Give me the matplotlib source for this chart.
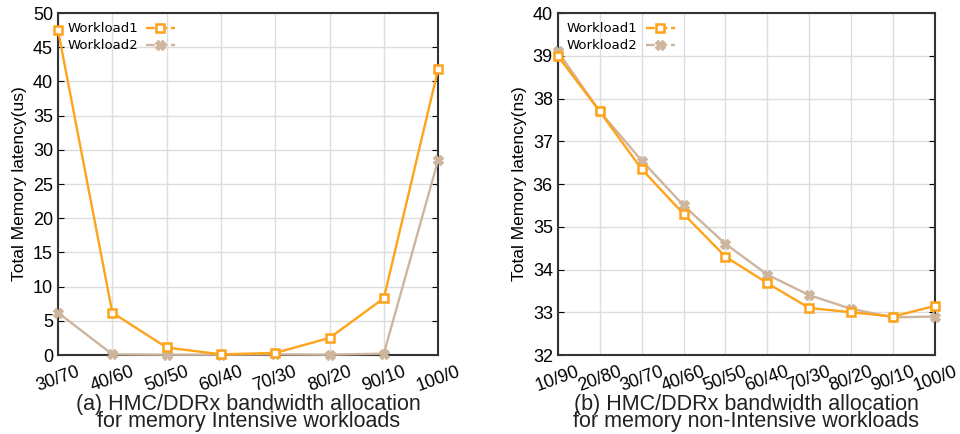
import matplotlib
matplotlib.use("Agg")
from matplotlib import pyplot as plt

# (a) memory intensive workloads
cats_a = ["30/70", "40/60", "50/50", "60/40", "70/30", "80/20", "90/10", "100/0"]
w1_a = [47.5, 6.2, 1.1, 0.1, 0.3, 2.5, 8.3, 41.8]
w2_a = [6.2, 0.1, 0.05, 0.05, 0.1, 0.05, 0.2, 28.5]

# (b) memory non-intensive workloads
cats_b = ["10/90", "20/80", "30/70", "40/60", "50/50", "60/40", "70/30", "80/20", "90/10", "100/0"]
w1_b = [39.0, 37.7, 36.35, 35.3, 34.3, 33.68, 33.1, 33.0, 32.9, 33.15]
w2_b = [39.1, 37.7, 36.55, 35.5, 34.6, 33.88, 33.4, 33.08, 32.88, 32.9]

ORANGE = "#FFA31A"
TAN = "#CDB59E"

plt.rcParams["font.family"] = ["Liberation Sans", "DejaVu Sans"]

fig = plt.figure(figsize=(9.6, 4.34), dpi=100)
ax1 = fig.add_axes([0.0604, 0.182, 0.396, 0.788])
ax2 = fig.add_axes([0.581, 0.182, 0.393, 0.788])


def draw(ax, cats, w1, w2, ylim, yticks, ylabel, caption):
    x = list(range(len(cats)))
    ax.plot(x, w1, color=ORANGE, lw=1.7, marker="s", ms=6, mfc="white", mec=ORANGE,
            mew=1.8, label="Workload1", clip_on=False, zorder=4)
    ax.plot(x, w2, color=TAN, lw=1.7, marker="X", ms=7, mfc=TAN, mec=TAN,
            label="Workload2", clip_on=False, zorder=3)
    ax.set_xlim(0, len(cats) - 1)
    ax.set_ylim(*ylim)
    ax.set_yticks(yticks)
    ax.set_xticks(x)
    ax.set_xticklabels(cats, rotation=20, ha="center", fontsize=13)
    ax.tick_params(axis="y", labelsize=13, direction="in", right=True, length=4)
    ax.tick_params(axis="x", direction="in", length=0, pad=6)
    ax.grid(True, color="#DDDDDD", lw=1)
    ax.set_axisbelow(True)
    for s in ax.spines.values():
        s.set_color("#333333")
        s.set_linewidth(1.5)
    ax.set_ylabel(ylabel, fontsize=12.5, labelpad=4)
    leg = ax.legend(loc="upper left", frameon=False, handlelength=2.2,
                    handletextpad=0.6, borderaxespad=0.3, labelspacing=0.3,
                    markerfirst=False, prop={"family": "DejaVu Sans", "size": 9.5})
    for h in leg.legend_handles:
        h.set_linestyle("--")
    ax.text(0.5, -0.115, caption, transform=ax.transAxes, ha="center", va="top",
            fontsize=15.5, linespacing=0.72, color="#222222")


draw(ax1, cats_a, w1_a, w2_a, (0, 50), range(0, 51, 5),
     "Total Memory latency(us)",
     "(a) HMC/DDRx bandwidth allocation\nfor memory Intensive workloads")
draw(ax2, cats_b, w1_b, w2_b, (32, 40), range(32, 41),
     "Total Memory latency(ns)",
     "(b) HMC/DDRx bandwidth allocation\nfor memory non-Intensive workloads")

fig.savefig("out.png", dpi=100)
